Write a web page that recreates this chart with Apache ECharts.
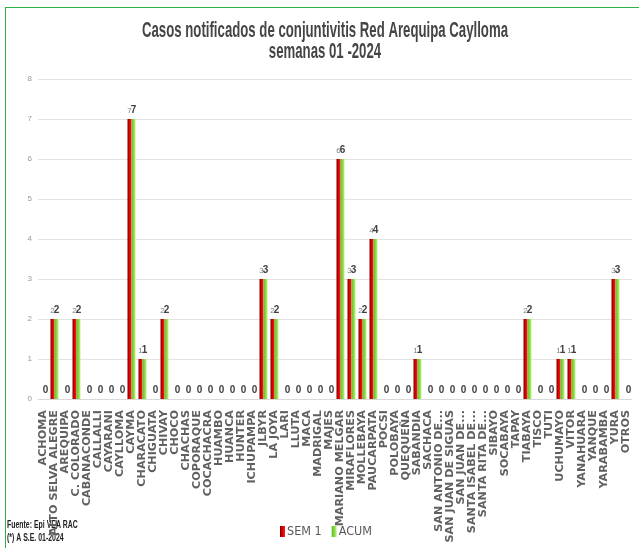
<!DOCTYPE html>
<html>
<head>
<meta charset="utf-8">
<script src="https://cdn.jsdelivr.net/npm/echarts@6/dist/echarts.min.js"></script>
<style>
  html, body { margin: 0; padding: 0; background: #fff; overflow: hidden; }
  #frame { position: absolute; left: 5px; top: 7px; width: 700px; height: 600px; border: 1px solid #2eb34a; }
  #main { position: absolute; left: 0; top: 0; width: 639px; height: 548px; }
</style>
</head>
<body>
<div id="frame"></div>
<div id="main"></div>
<script>
// distritos
const categories = [
  'ACHOMA', 'ALTO SELVA ALEGRE', 'AREQUIPA', 'C. COLORADO', 'CABANACONDE', 'CALLALLI',
  'CAYARANI', 'CAYLLOMA', 'CAYMA', 'CHARACATO', 'CHIGUATA', 'CHIVAY', 'CHOCO', 'CHACHAS',
  'COPORAQUE', 'COCACHACRA', 'HUAMBO', 'HUANCA', 'HUNTER', 'ICHUPAMPA', 'JLBYR', 'LA JOYA',
  'LARI', 'LLUTA', 'MACA', 'MADRIGAL', 'MAJES', 'MARIANO MELGAR', 'MIRAFLORES', 'MOLLEBAYA',
  'PAUCARPATA', 'POCSI', 'POLOBAYA', 'QUEQUEÑA', 'SABANDIA', 'SACHACA', 'SAN ANTONIO DE...',
  'SAN JUAN DE SIGUAS', 'SAN JUAN DE...', 'SANTA ISABEL DE...', 'SANTA RITA DE...', 'SIBAYO',
  'SOCABAYA', 'TAPAY', 'TIABAYA', 'TISCO', 'TUTI', 'UCHUMAYO', 'VITOR', 'YANAHUARA', 'YANQUE',
  'YARABAMBA', 'YURA', 'OTROS'
]
const sem1 = [
  0, 2, 0, 2, 0, 0, 0, 0, 7, 1, 0, 2, 0, 0, 0, 0, 0, 0, 0, 0, 3, 2, 0, 0, 0, 0, 0,
  6, 3, 2, 4, 0, 0, 0, 1, 0, 0, 0, 0, 0, 0, 0, 0, 0, 2, 0, 0, 1, 1, 0, 0, 0, 3, 0
]
const acum = [
  0, 2, 0, 2, 0, 0, 0, 0, 7, 1, 0, 2, 0, 0, 0, 0, 0, 0, 0, 0, 3, 2, 0, 0, 0, 0, 0,
  6, 3, 2, 4, 0, 0, 0, 1, 0, 0, 0, 0, 0, 0, 0, 0, 0, 2, 0, 0, 1, 1, 0, 0, 0, 3, 0
]
const yMin = 0
const yMax = 8
const yStep = 1

const narrow = 'Liberation Sans, Arial, sans-serif'

const myChart = echarts.init(document.getElementById('main'))
const option = {
  animation: false,
  legend: {
    bottom: 5,
    left: 275,
    itemWidth: 5,
    itemHeight: 11,
    itemGap: 10,
    icon: 'rect',
    textStyle: { fontFamily: 'DejaVu Sans Condensed, DejaVu Sans', fontSize: 12.5, color: '#595959', padding: [0, 0, 0, -3] },
    data: ['SEM 1', 'ACUM']
  },
  graphic: [
    // titulo (fuente estrecha simulada con scaleX)
    {
      type: 'text', x: 325, y: 31, scaleX: 0.6,
      style: { text: 'Casos notificados de conjuntivitis Red Arequipa Caylloma', font: 'bold 22px ' + narrow, fill: '#454545', textAlign: 'center', textVerticalAlign: 'middle' }
    },
    {
      type: 'text', x: 325, y: 52, scaleX: 0.6,
      style: { text: 'semanas 01 -2024', font: 'bold 22px ' + narrow, fill: '#454545', textAlign: 'center', textVerticalAlign: 'middle' }
    },
    {
      type: 'text', x: 7, y: 525, scaleX: 0.63,
      style: { text: 'Fuente: Epi VEA RAC', font: 'bold 11px ' + narrow, fill: '#222', textVerticalAlign: 'middle' }
    },
    {
      type: 'text', x: 7, y: 538, scaleX: 0.63,
      style: { text: '(*) A S.E. 01-2024', font: 'bold 11px ' + narrow, fill: '#222', textVerticalAlign: 'middle' }
    }
  ],
  grid: { left: 38, right: 7, top: 79, bottom: 149 },
  xAxis: {
    type: 'category',
    data: categories,
    axisTick: { show: false },
    axisLine: { lineStyle: { color: '#d9d9d9' } },
    axisLabel: {
      interval: 0,
      rotate: 90,
      fontFamily: 'DejaVu Sans',
      fontSize: 11.2,
      fontWeight: 'bold',
      color: '#606060',
      margin: 11
    }
  },
  yAxis: {
    type: 'value',
    min: yMin,
    max: yMax,
    interval: yStep,
    axisLine: { show: false },
    axisTick: { show: false },
    axisLabel: { fontSize: 8, color: '#999999', margin: 6 },
    splitLine: { lineStyle: { color: '#e3e3e3' } }
  },
  series: [
    {
      name: 'SEM 1',
      type: 'bar',
      data: sem1,
      barWidth: 4,
      barGap: '0%',
      itemStyle: {
        color: new echarts.graphic.LinearGradient(0, 0, 1, 0, [
          { offset: 0, color: '#7a0000' },
          { offset: 0.5, color: '#e00000' },
          { offset: 1, color: '#ff1a1a' }
        ])
      },
      label: {
        show: true,
        position: 'top',
        distance: 4,
        fontSize: 8,
        color: '#7f7f7f',
        formatter: function (p) {
          return p.value === 0 ? '' : p.value
        }
      }
    },
    {
      name: 'ACUM',
      type: 'bar',
      data: acum,
      barWidth: 4,
      itemStyle: {
        color: new echarts.graphic.LinearGradient(0, 0, 1, 0, [
          { offset: 0, color: '#5cbf2a' },
          { offset: 0.6, color: '#8fdc4a' },
          { offset: 1, color: '#c8f08a' }
        ])
      },
      label: {
        show: true,
        position: 'top',
        distance: 4,
        fontSize: 10,
        fontWeight: 'bold',
        color: '#404040'
      }
    }
  ]
}
option && myChart.setOption(option)
</script>
</body>
</html>
